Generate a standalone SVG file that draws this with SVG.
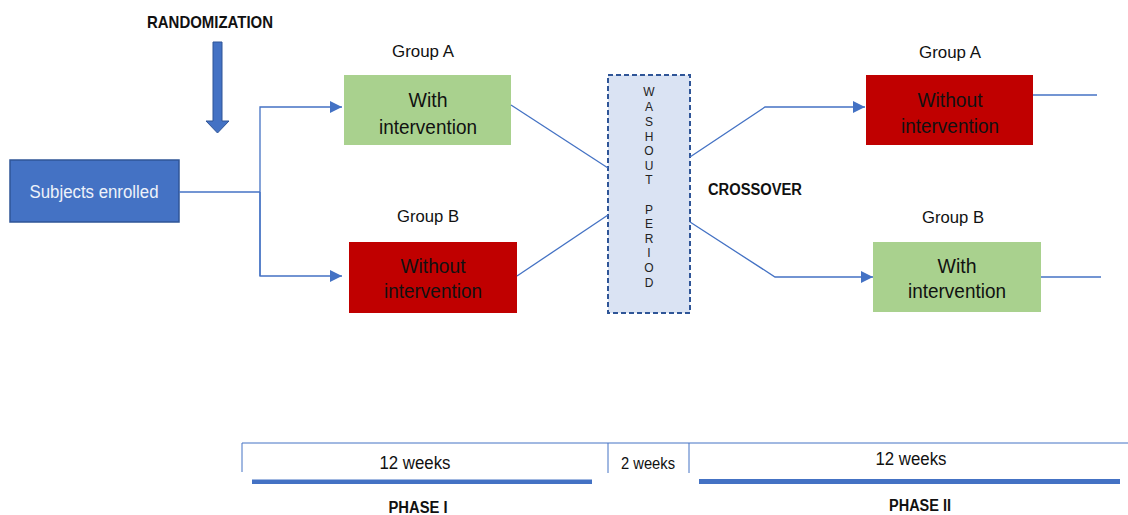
<svg xmlns="http://www.w3.org/2000/svg" width="1128" height="515" viewBox="0 0 1128 515">
<defs>
<style>
.t{font-family:"Liberation Sans",Arial,sans-serif;fill:#111;text-anchor:middle}
.b{font-weight:bold}
.conn{stroke:#4472C4;stroke-width:1.3;fill:none}
.wl{font-family:"Liberation Sans",Arial,sans-serif;font-size:12px;fill:#222;text-anchor:middle}
</style>
<marker id="ah" viewBox="0 0 10 10" refX="10" refY="5" markerWidth="13" markerHeight="12" markerUnits="userSpaceOnUse" orient="auto">
<path d="M0,0 L10,5 L0,10 z" fill="#4472C4"/>
</marker>
</defs>
<rect width="1128" height="515" fill="#fff"/>

<g id="randomization">
<text class="t b" x="210" y="28" font-size="17" textLength="126" lengthAdjust="spacingAndGlyphs">RANDOMIZATION</text>
<path d="M213,42 L222,42 L222,121 L229,121 L217.5,133 L206,121 L213,121 z" fill="#4472C4" stroke="#2F5597" stroke-width="1"/>
</g>

<g id="subjects">
<rect x="10" y="160" width="169" height="62" fill="#4472C4" stroke="#2F5597" stroke-width="1.5"/>
<text class="t" x="94" y="198" font-size="18" textLength="129" lengthAdjust="spacingAndGlyphs" style="fill:#EEF2FA">Subjects enrolled</text>
</g>

<g id="groupA1">
<text class="t" x="423" y="57" font-size="17" textLength="62" lengthAdjust="spacingAndGlyphs">Group A</text>
<rect x="344" y="75" width="167" height="70" fill="#A9D18E"/>
<text class="t" x="428" y="107" font-size="20" textLength="39" lengthAdjust="spacingAndGlyphs">With</text>
<text class="t" x="428" y="134" font-size="20" textLength="98" lengthAdjust="spacingAndGlyphs">intervention</text>
</g>

<g id="groupB1">
<text class="t" x="428" y="222" font-size="17" textLength="62" lengthAdjust="spacingAndGlyphs">Group B</text>
<rect x="349" y="242" width="168" height="71" fill="#C00000"/>
<text class="t" x="433" y="273" font-size="20" textLength="65" lengthAdjust="spacingAndGlyphs">Without</text>
<text class="t" x="433" y="298" font-size="20" textLength="98" lengthAdjust="spacingAndGlyphs">intervention</text>
</g>

<g id="washout">
<rect x="608" y="75" width="82" height="238" fill="#DAE3F3" stroke="#2F5597" stroke-width="2" stroke-dasharray="5,3"/>
<text class="wl" x="649" y="96">W</text>
<text class="wl" x="649" y="111">A</text>
<text class="wl" x="649" y="126">S</text>
<text class="wl" x="649" y="141">H</text>
<text class="wl" x="649" y="155">O</text>
<text class="wl" x="649" y="170">U</text>
<text class="wl" x="649" y="184">T</text>
<text class="wl" x="649" y="214">P</text>
<text class="wl" x="649" y="228">E</text>
<text class="wl" x="649" y="243">R</text>
<text class="wl" x="649" y="257">I</text>
<text class="wl" x="649" y="272">O</text>
<text class="wl" x="649" y="287">D</text>
</g>

<g id="crossover">
<text class="t b" x="755" y="195" font-size="16" textLength="94" lengthAdjust="spacingAndGlyphs">CROSSOVER</text>
</g>

<g id="groupA2">
<text class="t" x="950" y="58" font-size="17" textLength="62" lengthAdjust="spacingAndGlyphs">Group A</text>
<rect x="866" y="75" width="167" height="70" fill="#C00000"/>
<text class="t" x="950" y="107" font-size="20" textLength="65" lengthAdjust="spacingAndGlyphs">Without</text>
<text class="t" x="950" y="133" font-size="20" textLength="98" lengthAdjust="spacingAndGlyphs">intervention</text>
</g>

<g id="groupB2">
<text class="t" x="953" y="223" font-size="17" textLength="62" lengthAdjust="spacingAndGlyphs">Group B</text>
<rect x="873" y="242" width="168" height="70" fill="#A9D18E"/>
<text class="t" x="957" y="273" font-size="20" textLength="39" lengthAdjust="spacingAndGlyphs">With</text>
<text class="t" x="957" y="298" font-size="20" textLength="98" lengthAdjust="spacingAndGlyphs">intervention</text>
</g>

<g id="connectors">
<path class="conn" d="M179,192 L260,192"/>
<path class="conn" d="M260,276 L260,107 L342,107" marker-end="url(#ah)"/>
<path class="conn" d="M260,192 L260,276 L342,276" marker-end="url(#ah)"/>
<path class="conn" d="M511,105 L608,168"/>
<path class="conn" d="M517,276 L608,215"/>
<path class="conn" d="M690,157 L765,107 L865,107" marker-end="url(#ah)"/>
<path class="conn" d="M690,222 L775,277 L873,277" marker-end="url(#ah)"/>
<path class="conn" d="M1033,95 L1097,95"/>
<path class="conn" d="M1041,277 L1101,277"/>
</g>

<g id="timeline">
<path d="M242,443 L1128,443 M242,443 L242,472 M608,443 L608,473 M689,443 L689,473" stroke="#4472C4" stroke-width="1" fill="none"/>
<rect x="252" y="479.5" width="340" height="4.5" fill="#4472C4"/>
<rect x="699" y="479" width="421" height="5" fill="#4472C4"/>
<text class="t" x="415" y="469" font-size="18" textLength="71" lengthAdjust="spacingAndGlyphs">12 weeks</text>
<text class="t" x="648" y="469" font-size="16" textLength="54" lengthAdjust="spacingAndGlyphs">2 weeks</text>
<text class="t" x="911" y="465" font-size="18" textLength="71" lengthAdjust="spacingAndGlyphs">12 weeks</text>
<text class="t b" x="418" y="513" font-size="16" textLength="59" lengthAdjust="spacingAndGlyphs">PHASE I</text>
<text class="t b" x="920" y="511" font-size="16" textLength="62" lengthAdjust="spacingAndGlyphs">PHASE II</text>
</g>
</svg>
